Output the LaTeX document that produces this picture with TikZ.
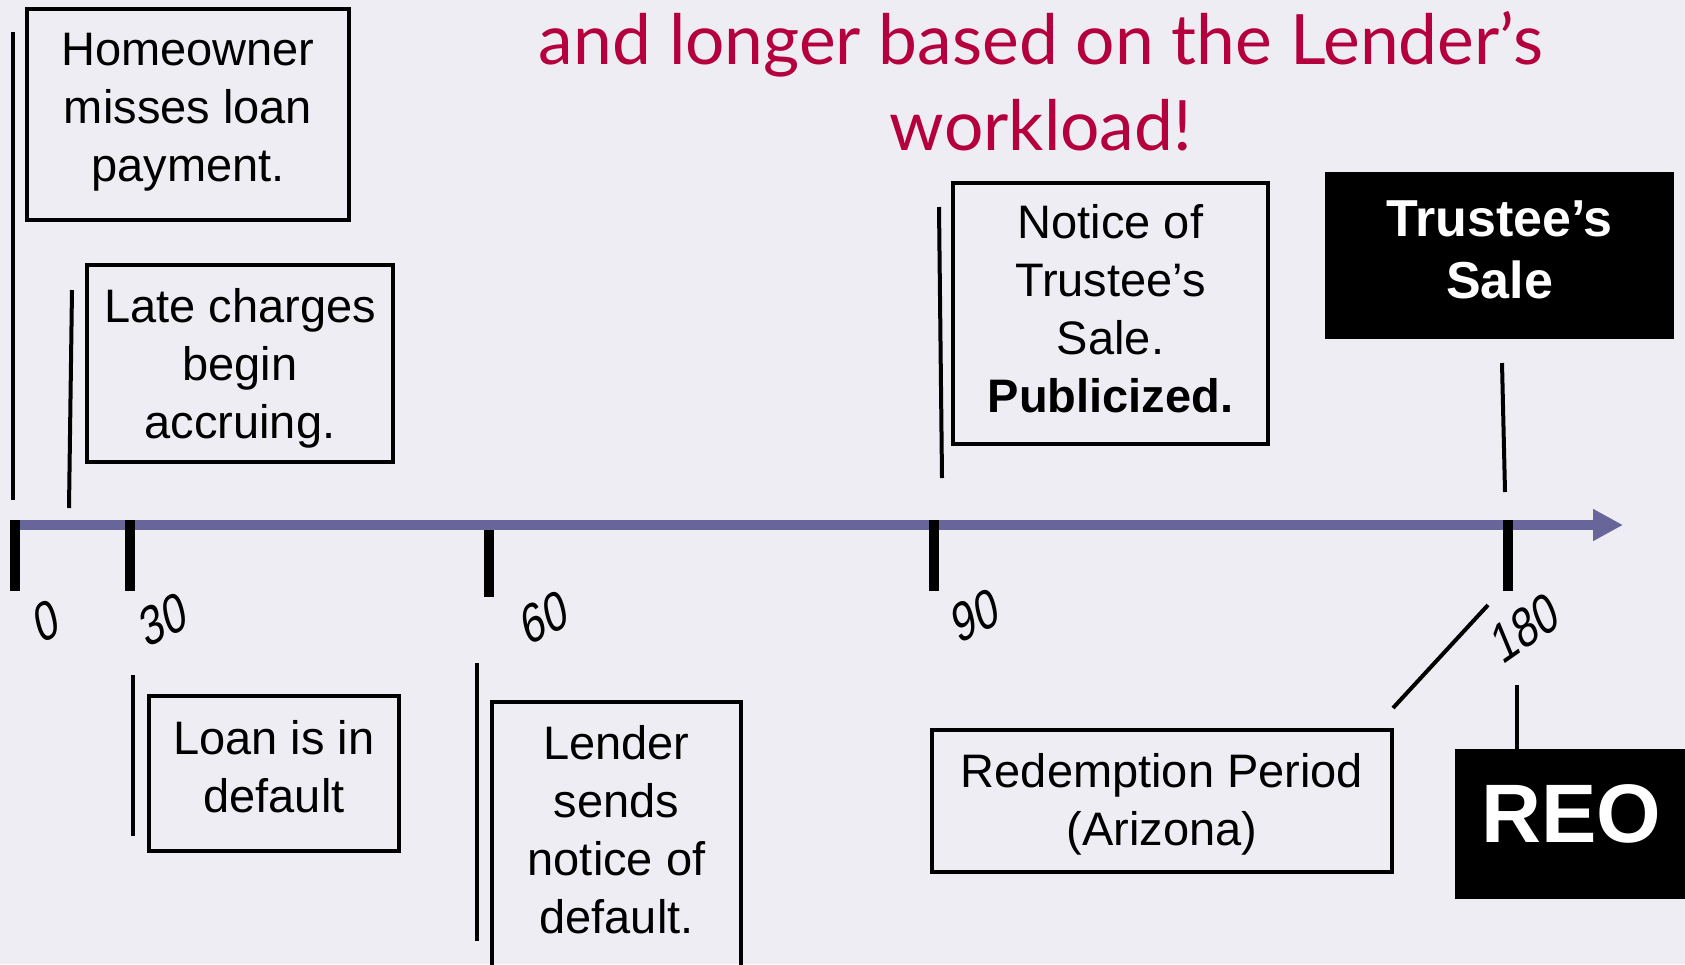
\documentclass[tikz,border=0pt]{standalone}
\usepackage{fontspec}
\setmainfont{Liberation Sans}
\newfontfamily\titlefont{Lato}
\newfontfamily\dayfont{Liberation Sans}[FakeSlant=0.22, FakeStretch=0.82]
\usetikzlibrary{arrows.meta, positioning}

\definecolor{slidebg}{HTML}{EEEDF3}
\definecolor{titlered}{HTML}{B4003C}
\definecolor{axisblue}{HTML}{68659A}

% centred lines, nudged up or down inside their box
\newcommand{\lift}[2]{\raisebox{#1}[\height][\depth]{\begin{tabular}{@{}c@{}}#2\end{tabular}}}

\begin{document}
\begin{tikzpicture}[
            x=1pt, y=-1pt,
            every node/.style={font=\fontsize{47}{58}\selectfont},
            box/.style={
                rectangle,
                draw,
                line width=4pt,
                inner sep=0pt
            },
            blackbox/.style={
                rectangle,
                fill=black,
                text=white,
                inner sep=0pt
            },
            leader/.style={line width=4pt},
            daytick/.style={line width=10pt},
            daylbl/.style={font=\dayfont\fontsize{53}{53}\selectfont, rotate=27},
            timeline/.style={line width=10pt, draw=axisblue,
                -{Triangle[length=30pt, width=30pt]}}
        ]

        % Background and frame
        \fill[slidebg] (0,0) rectangle (1685,964);
        \useasboundingbox (0,0) rectangle (1685,964);

        % Heading
        \node[font=\titlefont\fontsize{69.5}{86}\selectfont, text=titlered, align=center]
            (title) at (1041,81) {and longer based on the Lender’s\\workload!};

        % Time line
        \coordinate (start) at (11,525);
        \coordinate (stop) at (1623,525);
        \draw[timeline] (start) -- (stop);

        % Day marks
        \draw[daytick] (15,520) -- (15,591);
        \draw[daytick] (130,520) -- (130,591);
        \draw[daytick] (489,530) -- (489,597);
        \draw[daytick] (934,520) -- (934,591);
        \draw[daytick] (1508,520) -- (1508,591);

        \node[daylbl] (d0) at (43,623) {0};
        \node[daylbl] (d30) at (160,621) {30};
        \node[daylbl] (d60) at (541,619) {60};
        \node[daylbl] (d90) at (972,617) {90};
        \node[daylbl, rotate=8] (d180) at (1522,630) {180};

        % Events above the line
        \node[box, minimum width=322pt, minimum height=211pt] (missed) at (188,114.5)
            {\lift{3pt}{Homeowner\\misses loan\\payment.}};
        \node[box, minimum width=306pt, minimum height=197pt] (late) at (240,363.5)
            {\lift{-5.5pt}{Late charges\\begin\\accruing.}};
        \node[box, minimum width=315pt, minimum height=261pt] (notice) at (1110.5,313.5)
            {\lift{0pt}{Notice of\\Trustee’s\\Sale.\\\textbf{Publicized.}}};
        \node[blackbox, minimum width=349pt, minimum height=167pt,
              font=\bfseries\fontsize{52}{62}\selectfont] (sale) at (1499.5,255.5)
            {\lift{0pt}{Trustee’s\\Sale}};

        % Events below the line
        \node[box, minimum width=250pt, minimum height=155pt] (default) at (274,773.5)
            {\lift{2pt}{Loan is in\\default}};
        \node[minimum width=249pt, minimum height=252pt, inner sep=0pt]
            (lender) at (616.5,828) {\lift{-6.5pt}{Lender\\sends\\notice of\\default.}};
        \draw[line width=4pt] ([yshift=-40pt]lender.south west) |- (lender.north east)
            -- ([yshift=-40pt]lender.south east);
        \node[box, minimum width=460pt, minimum height=142pt] (redeem) at (1162,801)
            {\lift{-4pt}{Redemption Period\\(Arizona)}};
        \node[blackbox, minimum width=232pt, minimum height=150pt,
              font=\bfseries\fontsize{83}{83}\selectfont] (reo) at (1571,824)
            {\raisebox{10pt}[\height][\depth]{REO}};

        % Leader lines
        \draw[leader] (13,32) -- (13,500);
        \draw[leader] (72,290) -- (69,508);
        \draw[leader] (939,207) -- (942,478);
        \draw[leader] (1502,363) -- (1505,492);
        \draw[leader] (133,675) -- (133,836);
        \draw[leader] (477,663) -- (477,941);
        \draw[leader] (1393,708) -- (1488,605);
        \draw[leader] (1517,685) -- (reo.north -| 1517,0);

        \end{tikzpicture}
\end{document}
